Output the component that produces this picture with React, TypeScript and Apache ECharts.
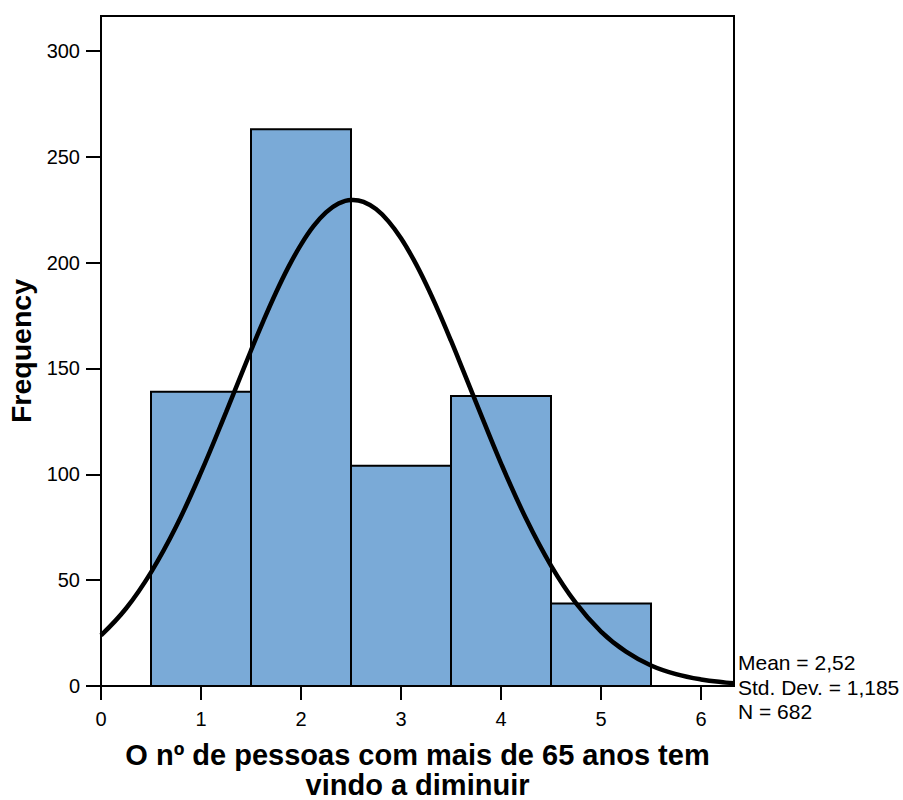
import React, { useEffect, useRef } from "react";
import * as echarts from "echarts";

const binCenters = [1, 2, 3, 4, 5];
const frequencies = [139, 263, 104, 137, 39];
const curveX = [0, 0.25, 0.5, 0.75, 1, 1.25, 1.5, 1.625, 1.75, 1.875, 2, 2.125, 2.25, 2.375, 2.5, 2.52, 2.625, 2.75, 2.875, 3, 3.125, 3.25, 3.375, 3.5, 3.625, 3.75, 4, 4.25, 4.5, 4.75, 5, 5.25, 5.5, 5.75, 6, 6.25, 6.33];
const curveY = [23.9, 36.6, 53.7, 75.2, 100.9, 129.3, 158.5, 172.6, 185.9, 198.0, 208.5, 217.2, 223.7, 227.9, 229.6, 229.6, 228.7, 225.3, 219.5, 211.5, 201.5, 189.9, 177.0, 163.1, 148.6, 134.0, 105.2, 79.1, 56.9, 39.1, 25.7, 16.2, 9.7, 5.6, 3.1, 1.6, 1.3];
const statsLines = ["Mean = 2,52", "Std. Dev. = 1,185", "N = 682"];
const xTitle = "O nº de pessoas com mais de 65 anos tem\nvindo a diminuir";
const yTitle = "Frequency";

const FONT = "'Liberation Sans', Arial, sans-serif";

export default function App() {
  const ref = useRef<HTMLDivElement>(null);
  useEffect(() => {
    if (!ref.current) return;
    const chart = echarts.init(ref.current, null, { renderer: "svg" });
    const barData = binCenters.map((c, i) => [c, frequencies[i]]);
    const lineData = curveX.map((x, i) => [x, curveY[i]]);
    chart.setOption({
      animation: false,
      backgroundColor: "#ffffff",
      textStyle: { fontFamily: FONT },
      grid: {
        left: 101,
        top: 16,
        right: 169,
        bottom: 114,
        show: true,
        borderColor: "#000",
        borderWidth: 2,
        backgroundColor: "transparent",
        containLabel: false,
        outerBoundsMode: "none",
      },
      xAxis: {
        type: "value",
        min: 0,
        max: 6.33,
        interval: 1,
        axisLine: { show: true, onZero: false, lineStyle: { color: "#000", width: 2 } },
        axisTick: { show: true, inside: false, length: 14, lineStyle: { color: "#000", width: 2 } },
        axisLabel: {
          color: "#000",
          fontSize: 20,
          fontFamily: FONT,
          margin: 23,
          showMaxLabel: false,
          formatter: (v: number) => (Number.isInteger(v) ? String(v) : ""),
        },
        splitLine: { show: false },
        name: xTitle,
        nameLocation: "middle",
        nameGap: 54,
        nameTextStyle: {
          color: "#000",
          fontSize: 29,
          fontWeight: "bold",
          fontFamily: FONT,
          lineHeight: 30,
          verticalAlign: "top",
        },
      },
      yAxis: {
        type: "value",
        min: 0,
        max: 316.5,
        interval: 50,
        axisLine: { show: true, lineStyle: { color: "#000", width: 2 } },
        axisTick: { show: true, inside: false, length: 15, lineStyle: { color: "#000", width: 2 } },
        axisLabel: {
          color: "#000",
          fontSize: 20,
          fontFamily: FONT,
          margin: 21,
          showMaxLabel: false,
          formatter: (v: number) => (v % 50 === 0 ? String(v) : ""),
        },
        splitLine: { show: false },
        name: yTitle,
        nameLocation: "middle",
        nameGap: 62,
        nameRotate: 90,
        nameTextStyle: {
          color: "#000",
          fontSize: 28.5,
          fontWeight: "bold",
          fontFamily: FONT,
        },
      },
      series: [
        {
          type: "custom",
          data: barData,
          z: 2,
          renderItem: (params: any, api: any) => {
            const x = api.value(0);
            const y = api.value(1);
            const p1 = api.coord([x - 0.5, y]);
            const p2 = api.coord([x + 0.5, 0]);
            return {
              type: "rect",
              shape: { x: p1[0], y: p1[1], width: p2[0] - p1[0], height: p2[1] - p1[1] },
              style: { fill: "#7aaad7", stroke: "#000", lineWidth: 2 },
            };
          },
        },
        {
          type: "line",
          data: lineData,
          smooth: 0.4,
          showSymbol: false,
          symbol: "none",
          z: 3,
          lineStyle: { color: "#000", width: 4.5 },
        },
      ],
      graphic: statsLines.map((t, i) => ({
        type: "text",
        left: 738,
        top: 652 + i * 24.5,
        style: { text: t, fill: "#000", font: `21px ${FONT}` },
      })),
    });
    return () => chart.dispose();
  }, []);
  return (
    <div
      ref={ref}
      style={{ position: "absolute", left: 0, top: 0, width: 903, height: 800 }}
    />
  );
}
